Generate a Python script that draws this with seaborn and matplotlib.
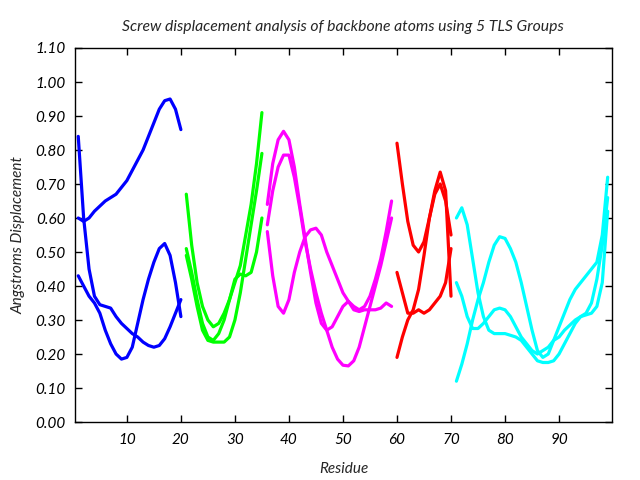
import matplotlib
matplotlib.use("Agg")
import matplotlib.pyplot as plt
import seaborn as sns
import pandas as pd

# ---- data ----
blue_x = list(range(1, 21))
blue_a = [0.60, 0.59, 0.60, 0.62, 0.635, 0.65, 0.66, 0.67, 0.69, 0.71, 0.74, 0.77, 0.80, 0.84, 0.88, 0.92, 0.945, 0.95, 0.92, 0.86]
blue_b = [0.84, 0.60, 0.45, 0.37, 0.345, 0.34, 0.335, 0.31, 0.29, 0.275, 0.26, 0.25, 0.235, 0.225, 0.22, 0.225, 0.245, 0.28, 0.32, 0.36]
blue_c = [0.43, 0.40, 0.37, 0.35, 0.32, 0.27, 0.23, 0.20, 0.185, 0.19, 0.22, 0.29, 0.36, 0.42, 0.47, 0.51, 0.525, 0.49, 0.41, 0.31]

green_x = list(range(21, 36))
green_a = [0.67, 0.52, 0.41, 0.34, 0.30, 0.28, 0.29, 0.32, 0.36, 0.41, 0.46, 0.55, 0.64, 0.76, 0.91]
green_b = [0.51, 0.44, 0.36, 0.29, 0.25, 0.24, 0.26, 0.30, 0.36, 0.42, 0.435, 0.43, 0.44, 0.50, 0.60]
green_c = [0.49, 0.42, 0.34, 0.27, 0.24, 0.235, 0.235, 0.235, 0.25, 0.30, 0.38, 0.48, 0.58, 0.68, 0.79]

magenta_x = list(range(36, 60))
magenta_a = [0.64, 0.76, 0.83, 0.855, 0.83, 0.75, 0.64, 0.54, 0.44, 0.35, 0.29, 0.27, 0.28, 0.31, 0.34, 0.355, 0.34, 0.33, 0.34, 0.37, 0.42, 0.48, 0.56, 0.65]
magenta_b = [0.58, 0.68, 0.75, 0.785, 0.785, 0.72, 0.63, 0.53, 0.45, 0.38, 0.32, 0.27, 0.22, 0.185, 0.167, 0.165, 0.18, 0.22, 0.28, 0.34, 0.40, 0.46, 0.53, 0.60]
magenta_c = [0.56, 0.43, 0.34, 0.32, 0.36, 0.44, 0.50, 0.545, 0.565, 0.57, 0.55, 0.50, 0.46, 0.42, 0.38, 0.355, 0.33, 0.325, 0.33, 0.33, 0.33, 0.335, 0.35, 0.34]

red_x = list(range(60, 71))
red_a = [0.82, 0.70, 0.59, 0.52, 0.50, 0.53, 0.60, 0.68, 0.735, 0.68, 0.37]
red_b = [0.44, 0.38, 0.32, 0.32, 0.33, 0.32, 0.33, 0.35, 0.37, 0.41, 0.51]
red_c = [0.19, 0.25, 0.30, 0.33, 0.39, 0.49, 0.60, 0.67, 0.70, 0.65, 0.55]

cyan_x = list(range(71, 100))
cyan_a = [0.60, 0.63, 0.58, 0.48, 0.38, 0.31, 0.27, 0.26, 0.26, 0.26, 0.255, 0.25, 0.24, 0.22, 0.20, 0.18, 0.175, 0.175, 0.18, 0.20, 0.23, 0.26, 0.29, 0.31, 0.315, 0.32, 0.34, 0.41, 0.62]
cyan_b = [0.41, 0.37, 0.31, 0.275, 0.275, 0.29, 0.31, 0.33, 0.335, 0.33, 0.31, 0.28, 0.25, 0.23, 0.21, 0.20, 0.21, 0.22, 0.24, 0.25, 0.27, 0.285, 0.30, 0.31, 0.32, 0.35, 0.42, 0.52, 0.66]
cyan_c = [0.12, 0.17, 0.23, 0.30, 0.36, 0.41, 0.47, 0.52, 0.545, 0.54, 0.51, 0.47, 0.41, 0.34, 0.27, 0.21, 0.19, 0.20, 0.24, 0.28, 0.32, 0.36, 0.39, 0.41, 0.43, 0.45, 0.47, 0.55, 0.72]

y_ticks = [0.0, 0.1, 0.2, 0.3, 0.4, 0.5, 0.6, 0.7, 0.8, 0.9, 1.0, 1.1]
x_ticks = [10, 20, 30, 40, 50, 60, 70, 80, 90]

groups = [
    ("blue", "#0000ff", blue_x, [blue_a, blue_b, blue_c]),
    ("green", "#00ff00", green_x, [green_a, green_b, green_c]),
    ("magenta", "#ff00ff", magenta_x, [magenta_a, magenta_b, magenta_c]),
    ("red", "#ff0000", red_x, [red_a, red_b, red_c]),
    ("cyan", "#00ffff", cyan_x, [cyan_a, cyan_b, cyan_c]),
]

rows = []
for name, col, xs, curves in groups:
    for k, ys in enumerate(curves):
        for x, y in zip(xs, ys):
            rows.append({"group": name, "curve": f"{name}{k}", "x": x, "y": y})
df = pd.DataFrame(rows)
palette = {name: col for name, col, _, _ in groups}

sns.set_style("white")
plt.rcParams["font.family"] = ["Lato", "DejaVu Sans"]

fig = plt.figure(figsize=(6.4, 4.8), dpi=100)
ax = fig.add_axes([75 / 640, 58 / 480, (612 - 75) / 640, (422 - 48) / 480])
sns.lineplot(data=df, x="x", y="y", hue="group", units="curve", estimator=None,
             palette=palette, linewidth=2.3, legend=False, ax=ax, sort=False)

ax.set_xlim(0.4, 99.8)
ax.set_ylim(0.0, 1.1)
ax.set_xticks(x_ticks)
ax.set_xticklabels([str(t) for t in x_ticks], fontstyle="italic", fontsize=11)
ax.set_yticks(y_ticks)
ax.set_yticklabels([f"{t:.2f}" for t in y_ticks], fontstyle="italic", fontsize=11)
ax.tick_params(direction="in", length=5, width=1, top=True, right=True,
               bottom=True, left=True, colors="black", pad=7)
ax.tick_params(axis="x", pad=8)
for s in ax.spines.values():
    s.set_visible(True)
    s.set_color("black")
    s.set_linewidth(1)
ax.set_xlabel("Residue", fontstyle="italic", fontsize=11, labelpad=11)
ax.set_ylabel("Angstroms Displacement", fontstyle="italic", fontsize=11, labelpad=7)
fig.text(0.535, 1 - 27 / 480, "Screw displacement analysis of backbone atoms using 5 TLS Groups",
         ha="center", va="center", fontstyle="italic", fontsize=11.3)

fig.savefig("out.png", dpi=100)
